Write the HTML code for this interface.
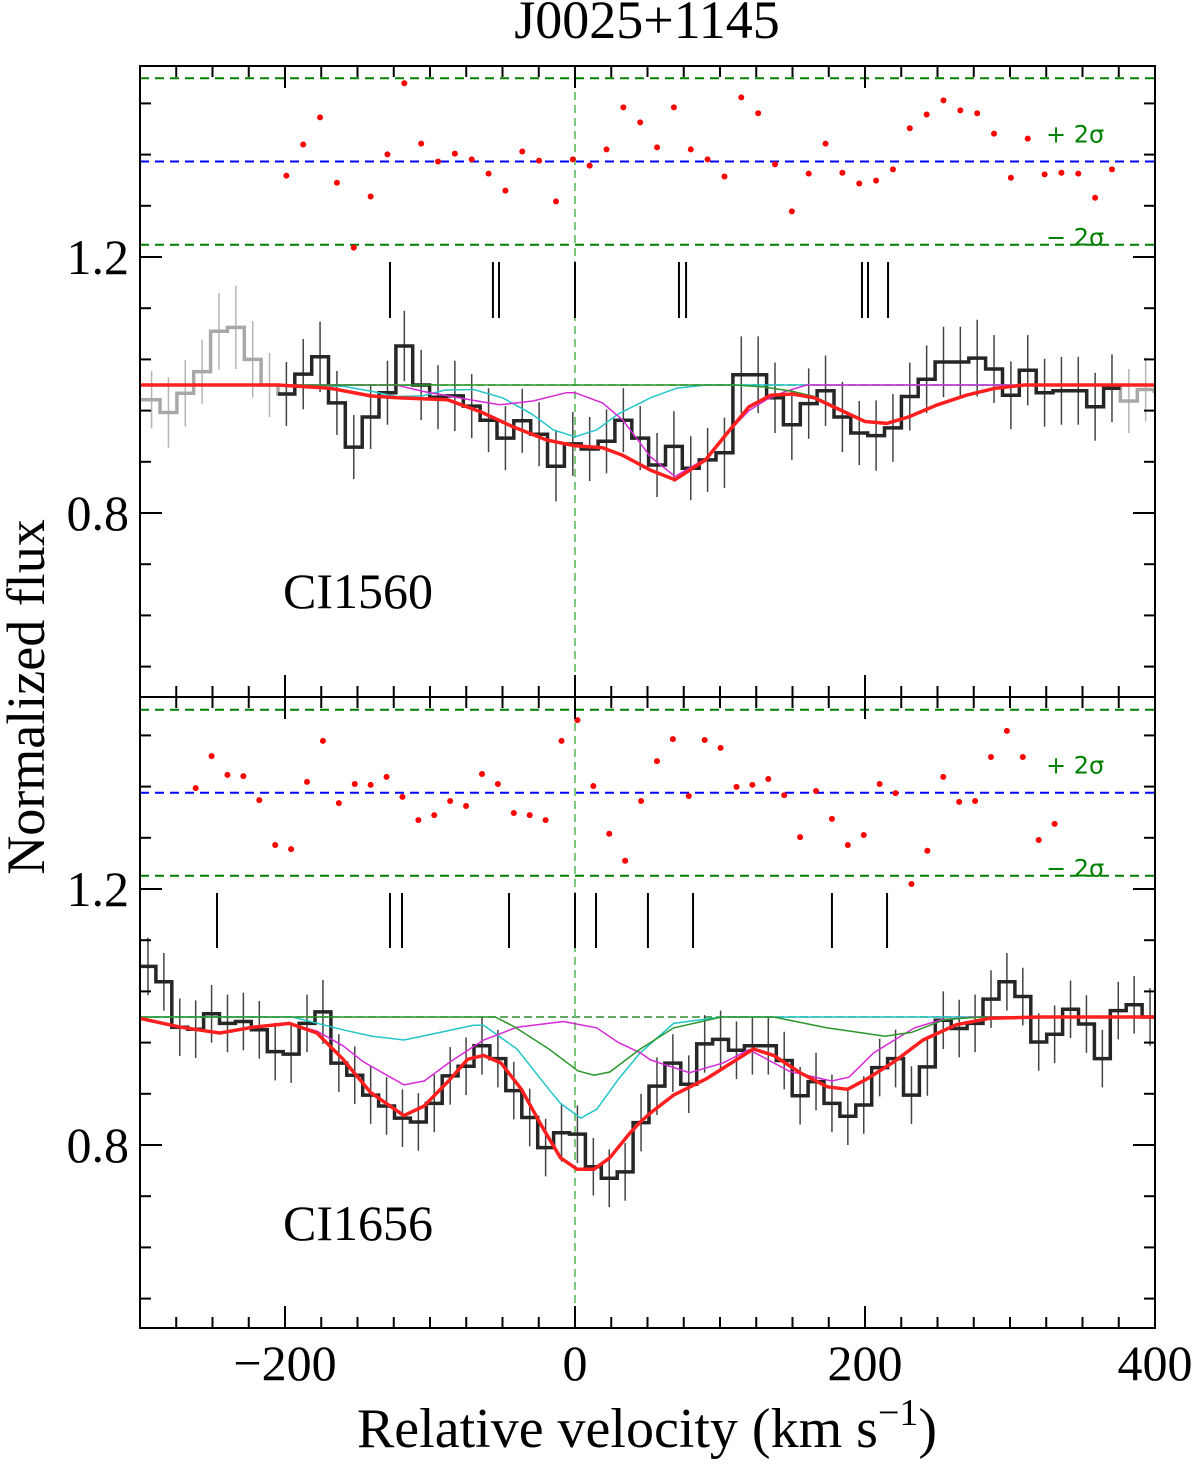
<!DOCTYPE html>
<html><head><meta charset="utf-8"><title>J0025+1145</title>
<style>
html,body{margin:0;padding:0;background:#fff;}
svg{display:block;}
.serif{font-family:"Liberation Serif",serif;}
</style></head>
<body>
<svg id="chart" xmlns="http://www.w3.org/2000/svg" width="1200" height="1467" viewBox="0 0 1200 1467">
<defs>
<clipPath id="clipTop"><rect x="140" y="66" width="1015" height="631"/></clipPath>
<clipPath id="clipBot"><rect x="140" y="697" width="1015" height="631"/></clipPath>
</defs>
<text class="serif" x="647" y="38" font-size="54" text-anchor="middle">J0025+1145</text>
<text class="serif" x="0" y="0" font-size="54" text-anchor="middle" transform="translate(44,697) rotate(-90)">Normalized flux</text>
<text class="serif" x="647" y="1447" font-size="56" text-anchor="middle">Relative velocity (km s<tspan font-size="38" dy="-22">−1</tspan><tspan dy="22">)</tspan></text>
<g id="top"></g>
<g id="bot"></g>
<g id="axes"></g>
</svg>
<script>
// ---------- DATA ----------
const topBinStart = -297.82, topBinWidth = 11.62;
const topFlux = [0.977,0.957,0.987,1.021,1.084,1.09,1.04,1.0,
 0.986,1.017,1.044,0.972,0.903,0.95,0.988,1.061,1.0,0.981,0.983,0.967,0.945,0.917,0.944,0.923,0.873,0.908,0.9,0.912,0.945,0.917,
 0.875,0.904,0.870,0.883,0.894,1.016,1.016,0.98,0.938,0.971,0.991,0.95,0.925,0.921,0.933,0.982,1.009,1.036,1.036,1.042,1.025,0.984,1.023,0.988,0.991,0.991,0.966,0.995,
 0.975,0.993,0.99];
const topErr = [0.045,0.055,0.052,0.05,0.06,0.065,0.06,0.05,
 0.05,0.055,0.055,0.05,0.05,0.05,0.05,0.055,0.055,0.05,0.055,0.05,0.05,0.05,0.05,0.05,0.055,0.05,0.05,0.05,0.05,0.05,
 0.05,0.055,0.05,0.05,0.055,0.06,0.06,0.055,0.055,0.055,0.055,0.055,0.05,0.055,0.053,0.053,0.053,0.055,0.055,0.06,0.053,0.053,0.055,0.053,0.053,0.053,0.053,0.053,
 0.05,0.05,0.05];
const topBlackFirst = 8, topBlackLast = 57;
const topResid = [-0.34,0.41,1.06,-0.51,-2.07,-0.84,0.17,1.88,0.43,0.0,0.19,0.05,-0.29,-0.7,0.24,0.02,-0.96,0.05,-0.1,0.29,1.3,0.94,0.34,1.3,0.29,0.05,-0.36,1.54,1.16,-0.07,-1.2,-0.29,0.43,-0.27,-0.53,-0.46,-0.19,0.8,1.13,1.47,1.23,1.16,0.67,-0.39,0.55,-0.31,-0.27,-0.29,-0.87,-0.19];
const topResidFirst = 8;
const topModelV = [-300,-205,-169,-141,-123,-88,-65,-43,-19.5,0,19,33,52,69,90,105,120,135,150,165,180,200,215,230,250,270,290,310,400];
const topModelF = [1,1,0.995,0.983,0.98,0.977,0.958,0.935,0.914,0.905,0.902,0.89,0.867,0.852,0.883,0.925,0.966,0.984,0.986,0.98,0.964,0.943,0.94,0.95,0.969,0.984,0.995,1,1];
const topCyanV = [-300,-160,-140,-123,-105,-90,-70,-50,-30,-15,0,15,30,45,52,70,90,400];
const topCyanF = [1,0.998,0.99,0.982,0.983,0.992,0.993,0.98,0.955,0.93,0.919,0.93,0.955,0.972,0.98,0.995,1,1];
const topMagV = [-300,-123,-105,-75,-52,-29,-6,0,19,33,45,52,69,90,105,120,132,145,160,400];
const topMagF = [1,1,0.99,0.978,0.969,0.975,0.988,0.988,0.972,0.945,0.909,0.888,0.857,0.885,0.925,0.96,0.977,0.99,1,1];
const topGreenV = [-300,110,130,150,165,180,200,215,230,250,270,290,310,400];
const topGreenF = [1,1,0.997,0.99,0.982,0.966,0.944,0.94,0.95,0.969,0.984,0.995,1,1];
const topComps = [-127.6,-56.6,-52.4,0,71.7,76.6,197.9,202.1,215.9];

const botBinStart = -300, botBinWidth = 10.97;
const botFlux = [1.079,1.055,0.984,0.981,1.005,0.99,0.993,0.98,0.946,0.942,0.99,1.008,0.928,0.909,0.878,0.861,0.842,0.836,0.865,0.908,0.923,0.955,0.935,0.885,0.843,0.796,0.819,0.817,0.766,0.748,0.758,0.835,
 0.892,0.928,0.895,0.958,0.965,0.948,0.955,0.955,0.932,0.877,0.899,0.865,0.845,0.8625,0.921,0.935,0.878,0.922,0.995,0.982,0.99,1.028,1.055,1.032,0.961,0.973,1.012,0.989,0.935,1.01,1.019,1.0];
const botErr = [0.045,0.045,0.045,0.045,0.045,0.045,0.045,0.045,0.045,0.045,0.045,0.05,0.045,0.045,0.045,0.045,0.045,0.045,0.045,0.045,0.045,0.045,0.045,0.045,0.045,0.045,0.045,0.045,0.045,0.045,0.045,0.045,
 0.045,0.045,0.045,0.045,0.045,0.045,0.045,0.045,0.045,0.045,0.045,0.045,0.045,0.045,0.045,0.045,0.045,0.045,0.045,0.045,0.045,0.045,0.045,0.045,0.045,0.045,0.045,0.045,0.045,0.045,0.045,0.045];
const botResid = [0.11,0.88,0.43,0.4,-0.18,-1.26,-1.36,0.26,1.25,-0.25,0.21,0.19,0.38,-0.1,-0.66,-0.54,-0.2,-0.32,0.45,0.21,-0.49,-0.54,-0.66,1.25,1.75,0.16,-0.99,-1.64,-0.2,0.76,1.29,-0.08,1.27,1.08,0.14,0.19,0.33,-0.06,-1.07,0.04,-0.63,-1.26,-1.02,0.21,-0.01,-2.2,-1.4,0.38,-0.22,-0.2,0.86,1.49,0.86,-1.14,-0.75];
const botResidFirst = 3;
const botModelV = [-300,-272,-245,-222,-197,-178,-160,-141,-118,-104,-86,-74,-63,-51,-37,-23,-10,1.6,13,24,38,45,52,68,91,123,137,156,174,188,202,220,240,263,286,321,400];
const botModelF = [0.998,0.984,0.975,0.984,0.99,0.975,0.934,0.882,0.846,0.861,0.903,0.934,0.94,0.928,0.887,0.83,0.78,0.762,0.762,0.78,0.819,0.836,0.85,0.878,0.904,0.95,0.94,0.912,0.891,0.887,0.904,0.93,0.964,0.988,0.998,1,1];
const botCyanV = [-300,-195,-160,-140,-118,-95,-70,-63,-40,-18,-10,4,15,30,45,68,101,400];
const botCyanF = [1,1,0.98,0.97,0.964,0.975,0.987,0.987,0.95,0.887,0.865,0.842,0.856,0.903,0.944,0.99,1,1];
const botMagV = [-300,-272,-245,-222,-197,-178,-160,-146,-118,-104,-86,-63,-40,-8,15,30,45,52,79,102,120,148,177,189,206,234,253,276,400];
const botMagF = [0.998,0.984,0.975,0.984,0.99,0.978,0.955,0.93,0.894,0.9,0.93,0.964,0.984,0.993,0.983,0.96,0.944,0.933,0.913,0.928,0.949,0.915,0.9,0.906,0.944,0.983,0.996,1,1];
const botGreenV = [-300,-55,-42,-18,2,13,24,45,68,101,137,174,214,232,255,280,400];
const botGreenF = [1,1,0.985,0.95,0.916,0.909,0.914,0.95,0.983,1,1,0.983,0.97,0.976,0.996,1,1];
const botComps = [-246.9,-127.6,-119.3,-45.5,0,14.5,50.3,81.4,177.2,215.2];

const xTickLabels = [-200,0,200,400];
const yTickLabels = [1.2,0.8];

// ---------- SCALES ----------
const NS = "http://www.w3.org/2000/svg";
const X0 = 140, X1 = 1155, VMIN = -300, VMAX = 400;
function xs(v){ return X0 + (v - VMIN) * (X1 - X0) / (VMAX - VMIN); }
const panels = {
  top:{g:document.getElementById('top'), y1:385, ry0:161.5, rs:41.6, top:66, bot:697, clip:'clipTop', compY:[262,318], label:'CI1560', labelY:608},
  bot:{g:document.getElementById('bot'), y1:1017, ry0:792.7, rs:41.5, top:697, bot:1328, clip:'clipBot', compY:[893,948], label:'CI1656', labelY:1240}
};
function ys(p,f){ return p.y1 - (f - 1) * 640; }
function yr(p,r){ return p.ry0 - r * p.rs; }
function mk(tag, attrs, parent){
  const e = document.createElementNS(NS, tag);
  for (const k in attrs) e.setAttribute(k, attrs[k]);
  parent.appendChild(e); return e;
}
function histPath(p, flux, start, w, i0, i1){
  let d = '';
  for (let i = i0; i <= i1; i++){
    let a = start + i*w, b = a + w;
    if (i === 0) a = Math.min(a, VMIN);
    const y = ys(p, flux[i]).toFixed(1);
    d += (i === i0 ? 'M' : 'L') + xs(a).toFixed(1) + ',' + y + 'L' + xs(b).toFixed(1) + ',' + y;
  }
  return d;
}
function linePath(p, V, F){
  return V.map((v,i)=>(i?'L':'M')+xs(v).toFixed(1)+','+ys(p,F[i]).toFixed(1)).join('');
}

function drawPanel(key, flux, err, start, w, blackFirst, blackLast, resid, residFirst, cyanV, cyanF, magV, magF, greenV, greenF, modV, modF, comps){
  const p = panels[key];
  const g = mk('g', {'clip-path':'url(#'+p.clip+')'}, p.g);
  const lPlus = mk('line', {x1:X0,x2:X1,y1:yr(p,2),y2:yr(p,2),stroke:'#008000','stroke-width':2,'stroke-dasharray':'9,6'}, g);
  
  
  const lZero = mk('line', {x1:X0,x2:X1,y1:yr(p,0),y2:yr(p,0),stroke:'#0000ff','stroke-width':2,'stroke-dasharray':'9,6'}, g);
  
  
  const lMinus = mk('line', {x1:X0,x2:X1,y1:yr(p,-2),y2:yr(p,-2),stroke:'#008000','stroke-width':2,'stroke-dasharray':'9,6'}, g);
  
  
  const cont = mk('line', {x1:X0,x2:X1,y1:ys(p,1),y2:ys(p,1),stroke:'#2e8b2e','stroke-width':1.5,'stroke-dasharray':'8,4'}, g);
  
  
  const zl = mk('line', {x1:xs(0),x2:xs(0),y1:p.top,y2:p.bot,stroke:'#7cc87c','stroke-width':2,'stroke-dasharray':'8,5'}, g);
  
  
  for (let i = 0; i < flux.length; i++){
    const c = start + (i+0.5)*w;
    const grey = i < blackFirst || i > blackLast;
    const eb = mk('line', {x1:xs(c),x2:xs(c),y1:ys(p,flux[i]-err[i]),y2:ys(p,flux[i]+err[i]),stroke:grey?'#b5b5b5':'#444','stroke-width':1.5}, g);
    
    
  }
  if (blackFirst > 0){
    const gh = mk('path', {d:histPath(p, flux, start, w, 0, blackFirst), fill:'none', stroke:'#a8a8a8','stroke-width':3.5}, g);
    
    
  }
  if (blackLast < flux.length-1){
    const gh2 = mk('path', {d:histPath(p, flux, start, w, blackLast, flux.length-1), fill:'none', stroke:'#a8a8a8','stroke-width':3.5}, g);
    
    
  }
  const bh = mk('path', {d:histPath(p, flux, start, w, blackFirst, blackLast), fill:'none', stroke:'#262626','stroke-width':3.5}, g);
  
  
  const cy = mk('path', {d:linePath(p, cyanV, cyanF), fill:'none', stroke:'#22c4c8','stroke-width':1.5}, g);
  
  
  const mg = mk('path', {d:linePath(p, magV, magF), fill:'none', stroke:'#d62ad6','stroke-width':1.5}, g);
  
  
  const gr = mk('path', {d:linePath(p, greenV, greenF), fill:'none', stroke:'#2a962a','stroke-width':1.5}, g);
  
  
  const md = mk('path', {d:linePath(p, modV, modF), fill:'none', stroke:'#ff1f1f','stroke-width':3.5,'stroke-linejoin':'round'}, g);
  
  
  for (let i = 0; i < resid.length; i++){
    const c = start + (residFirst + i + 0.5)*w;
    const dot = mk('circle', {cx:xs(c), cy:yr(p,resid[i]), r:3, fill:'#ff0000'}, g);
    
    
  }
  comps.forEach(v=>{
    const t = mk('line', {x1:xs(v),x2:xs(v),y1:p.compY[0],y2:p.compY[1],stroke:'#000','stroke-width':2}, g);
    
    
  });
  const lab = mk('text', {x:283, y:p.labelY, 'font-size':50, 'font-family':'"Liberation Serif", serif'}, p.g);
  lab.textContent = p.label;
  
  
  const sp = mk('text', {x:1046, y:yr(p,2)+64, 'font-size':24, fill:'#008000', 'font-family':'"DejaVu Sans", sans-serif'}, p.g);
  sp.textContent = '+ 2σ';
  
  
  const sm = mk('text', {x:1046, y:yr(p,-2)+1, 'font-size':24, fill:'#008000', 'font-family':'"DejaVu Sans", sans-serif'}, p.g);
  sm.textContent = '− 2σ';
  
  
}

drawPanel('top', topFlux, topErr, topBinStart, topBinWidth, topBlackFirst, topBlackLast, topResid, topResidFirst, topCyanV, topCyanF, topMagV, topMagF, topGreenV, topGreenF, topModelV, topModelF, topComps);
drawPanel('bot', botFlux, botErr, botBinStart, botBinWidth, 0, botFlux.length-1, botResid, botResidFirst, botCyanV, botCyanF, botMagV, botMagF, botGreenV, botGreenF, botModelV, botModelF, botComps);

// ---------- AXES ----------
const ax = document.getElementById('axes');
['top','bot'].forEach(key=>{
  const p = panels[key];
  const fr = mk('rect', {x:X0, y:p.top, width:X1-X0, height:p.bot-p.top, fill:'none', stroke:'#000', 'stroke-width':2}, ax);
  
  
  for (let v = -300; v <= 400; v += 25){
    const major = (v % 200 === 0);
    const L = major ? 22 : 11;
    const t1 = mk('line', {x1:xs(v),x2:xs(v),y1:p.top,y2:p.top+L,stroke:'#000','stroke-width':2}, ax);
    
    
    const t2 = mk('line', {x1:xs(v),x2:xs(v),y1:p.bot,y2:p.bot-L,stroke:'#000','stroke-width':2}, ax);
    
    
  }
  for (let k = -10; k <= 10; k++){
    const f = 1.2 + k*0.08;
    const y = ys(p, f);
    if (y < p.top + 2 || y > p.bot - 2) continue;
    const major = (k % 5 === 0);
    const L = major ? 22 : 11;
    const t1 = mk('line', {x1:X0,x2:X0+L,y1:y,y2:y,stroke:'#000','stroke-width':2}, ax);
    
    
    const t2 = mk('line', {x1:X1,x2:X1-L,y1:y,y2:y,stroke:'#000','stroke-width':2}, ax);
    
    
  }
  yTickLabels.forEach(f=>{
    const t = mk('text', {x:129, y:ys(p,f)+17, 'font-size':50, 'text-anchor':'end', 'font-family':'"Liberation Serif", serif'}, ax);
    t.textContent = f.toFixed(1);
    
    
  });
});
xTickLabels.forEach(v=>{
  const t = mk('text', {x:xs(v), y:1380, 'font-size':50, 'text-anchor':'middle', 'font-family':'"Liberation Serif", serif'}, ax);
  t.textContent = v < 0 ? '−' + Math.abs(v) : String(v);
  
  
});
</script>
</body></html>
